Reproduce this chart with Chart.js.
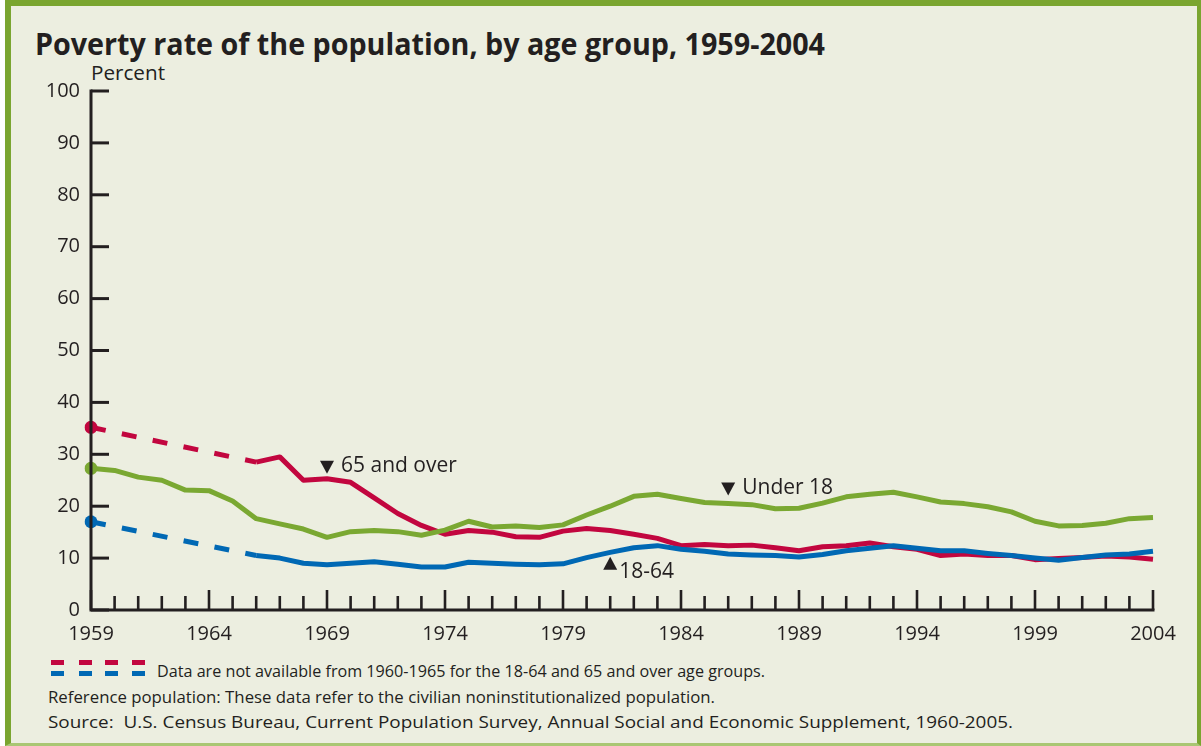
<!DOCTYPE html>
<html>
<head>
<meta charset="utf-8">
<script src="https://cdn.jsdelivr.net/npm/chart.js@4"></script>
<style>
  html, body { margin: 0; padding: 0; background: #ffffff; }
  #frame {
    position: absolute; left: 5px; top: 0; width: 1186px; height: 737px;
    background: #eceee0;
    border-top: 6px solid #7aa530; border-left: 6px solid #7aa530;
    border-right: 4px solid #7aa530; border-bottom: 3px solid #a9c673;
  }
  .txt { position: absolute; white-space: nowrap; color: #231f20; transform-origin: 0 50%; line-height: 1; }
  #title { left: 35px; top: 22px; font: 700 31px "Open Sans", sans-serif; }
  #unit { left: 91px; top: 59px; font: 400 20px "Open Sans", sans-serif; }
  .foot { font: 400 17px "Open Sans", sans-serif; }
  #f1 { left: 157px; top: 659px; }
  #f2 { left: 48px; top: 685px; }
  #f3 { left: 48px; top: 710px; }
  .dash { position: absolute; width: 13px; height: 5px; }
  canvas { position: absolute; left: 0; top: 0; }
</style>
</head>
<body>
<div id="frame"></div>
<div class="txt" id="title" data-w="790">Poverty rate of the population, by age group, 1959-2004</div>
<div class="txt" id="unit" data-w="74">Percent</div>
<div class="txt foot" id="f1" data-w="608">Data are not available from 1960-1965 for the 18-64 and 65 and over age groups.</div>
<div class="txt foot" id="f2" data-w="667">Reference population: These data refer to the civilian noninstitutionalized population.</div>
<div class="txt foot" id="f3" data-w="965">Source:&nbsp; U.S. Census Bureau, Current Population Survey, Annual Social and Economic Supplement, 1960-2005.</div>
<div id="legendDashes"></div>
<canvas id="chart" width="1201" height="746"></canvas>
<script>
const years = ['1959','1960','1961','1962','1963','1964','1965','1966','1967','1968',
  '1969','1970','1971','1972','1973','1974','1975','1976','1977','1978',
  '1979','1980','1981','1982','1983','1984','1985','1986','1987','1988',
  '1989','1990','1991','1992','1993','1994','1995','1996','1997','1998',
  '1999','2000','2001','2002','2003','2004'];

const under18 = [27.3, 26.9, 25.6, 25.0, 23.1, 23.0, 21.0, 17.6, 16.6, 15.6,
  14.0, 15.1, 15.3, 15.1, 14.4, 15.4, 17.1, 16.0, 16.2, 15.9,
  16.4, 18.3, 20.0, 21.9, 22.3, 21.5, 20.7, 20.5, 20.3, 19.5,
  19.6, 20.6, 21.8, 22.3, 22.7, 21.8, 20.8, 20.5, 19.9, 18.9,
  17.1, 16.2, 16.3, 16.7, 17.6, 17.8];

const age18to64 = [17.0, null, null, null, null, null, null, 10.5, 10.0, 9.0,
  8.7, 9.0, 9.3, 8.8, 8.3, 8.3, 9.2, 9.0, 8.8, 8.7,
  8.9, 10.1, 11.1, 12.0, 12.4, 11.7, 11.3, 10.8, 10.6, 10.5,
  10.2, 10.7, 11.4, 11.9, 12.4, 11.9, 11.4, 11.4, 10.9, 10.5,
  10.0, 9.6, 10.1, 10.6, 10.8, 11.3];

const over65 = [35.2, null, null, null, null, null, null, 28.5, 29.5, 25.0,
  25.3, 24.6, 21.6, 18.6, 16.3, 14.6, 15.3, 15.0, 14.1, 14.0,
  15.2, 15.7, 15.3, 14.6, 13.8, 12.4, 12.6, 12.4, 12.5, 12.0,
  11.4, 12.2, 12.4, 12.9, 12.2, 11.7, 10.5, 10.8, 10.5, 10.5,
  9.7, 9.9, 10.1, 10.4, 10.2, 9.8];

const yTicks = [0, 10, 20, 30, 40, 50, 60, 70, 80, 90, 100];

// label text, year it points at, value at the arrow, arrow direction
const callouts = [
  { text: '65 and over', year: '1969', value: 27.6, dir: 'down' },
  { text: 'Under 18', year: '1986', value: 23.4, dir: 'down' },
  { text: '18-64', year: '1981', value: 8.9, dir: 'up' }
];

const RED = '#c2063f', GREEN = '#7aa832', BLUE = '#0068b4', INK = '#231f20';

// legend dashes in the footer
const ld = document.getElementById('legendDashes');
[51, 79, 105, 132].forEach(x => {
  ld.innerHTML += `<div class="dash" style="left:${x}px;top:660px;background:${RED}"></div>` +
                  `<div class="dash" style="left:${x}px;top:671px;background:${BLUE}"></div>`;
});

document.querySelectorAll('[data-w]').forEach(el => {
  const w = el.getBoundingClientRect().width;
  el.style.transform = `scaleX(${el.dataset.w / w})`;
});

// dashed where the line bridges missing years
const gap = (ctx, value) => (ctx.p0.skip || ctx.p1.skip) ? value : undefined;

function makeSet(label, data, color) {
  return {
    label: label,
    data: data,
    borderColor: color,
    backgroundColor: color,
    borderWidth: 5,
    spanGaps: true,
    tension: 0,
    borderJoinStyle: 'round',
    pointRadius: ctx => ctx.dataIndex === 0 ? 6.5 : 0,
    pointHoverRadius: 0,
    pointBorderWidth: 0,
    segment: {
      borderDash: ctx => gap(ctx, [15, 16.5])
    }
  };
}

const axisTicks = {
  id: 'axisTicks',
  afterDatasetsDraw(chart) {
    const ctx = chart.ctx;
    const x = chart.scales.x, y = chart.scales.y;
    ctx.save();
    ctx.strokeStyle = INK;
    ctx.lineWidth = 3;
    yTicks.forEach(v => {
      const py = y.getPixelForValue(v);
      ctx.beginPath();
      ctx.moveTo(x.left, py);
      ctx.lineTo(x.left + 18, py);
      ctx.stroke();
    });
    ctx.lineWidth = 2.6;
    years.forEach((yr, i) => {
      const px = x.getPixelForValue(i);
      const len = i % 5 === 0 ? 20 : 14;
      ctx.beginPath();
      ctx.moveTo(px, y.bottom);
      ctx.lineTo(px, y.bottom - len);
      ctx.stroke();
    });
    // axis lines
    ctx.lineWidth = 3;
    ctx.beginPath();
    ctx.moveTo(x.left, y.getPixelForValue(100) - 1.5);
    ctx.lineTo(x.left, y.bottom);
    ctx.lineTo(x.right + 1.5, y.bottom);
    ctx.stroke();

    // callouts
    ctx.fillStyle = INK;
    ctx.font = '400 21px "Open Sans", sans-serif';
    ctx.textBaseline = 'middle';
    callouts.forEach(c => {
      const px = x.getPixelForValue(years.indexOf(c.year));
      const py = y.getPixelForValue(c.value);
      ctx.beginPath();
      if (c.dir === 'down') {
        ctx.moveTo(px - 7, py - 6);
        ctx.lineTo(px + 7, py - 6);
        ctx.lineTo(px, py + 7);
      } else {
        ctx.moveTo(px - 7, py + 6);
        ctx.lineTo(px + 7, py + 6);
        ctx.lineTo(px, py - 7);
      }
      ctx.closePath();
      ctx.fill();
      ctx.fillText(c.text, px + (c.dir === 'down' ? 14 : 9), c.dir === 'down' ? py - 1 : py + 8);
    });
    ctx.restore();
  }
};

new Chart(document.getElementById('chart'), {
  type: 'line',
  data: {
    labels: years,
    datasets: [
      makeSet('18-64', age18to64, BLUE),
      makeSet('Under 18', under18, GREEN),
      makeSet('65 and over', over65, RED)
    ]
  },
  options: {
    responsive: false,
    animation: false,
    layout: { padding: { top: 91, right: 48, left: 0, bottom: 0 } },
    plugins: {
      legend: { display: false },
      tooltip: { enabled: false }
    },
    scales: {
      x: {
        offset: false,
        grid: { display: false, drawTicks: false },
        border: { display: false },
        afterFit: s => { s.height = 136; },
        ticks: {
          autoSkip: false,
          maxRotation: 0,
          padding: 12,
          color: INK,
          font: { family: 'Open Sans', size: 20 },
          callback: (v, i) => i % 5 === 0 ? years[i] : ''
        }
      },
      y: {
        min: 0,
        max: 100,
        grid: { display: false, drawTicks: false },
        border: { display: false },
        afterFit: s => { s.width = 91; },
        afterBuildTicks: s => { s.ticks = yTicks.map(v => ({ value: v })); },
        ticks: {
          padding: 11,
          color: INK,
          font: { family: 'Open Sans', size: 20 }
        }
      }
    }
  },
  plugins: [axisTicks]
});
</script>
</body>
</html>
